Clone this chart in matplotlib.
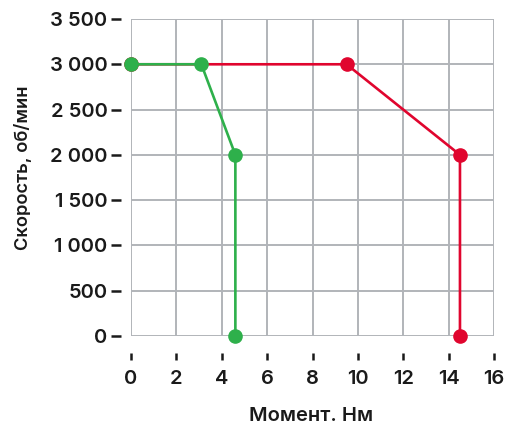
import matplotlib
matplotlib.use("Agg")
import matplotlib.pyplot as plt
from matplotlib.ticker import FuncFormatter

plt.rcParams['font.family'] = ['Inter', 'DejaVu Sans']
plt.rcParams['font.weight'] = 600

red_x = [0, 9.5, 14.5, 14.5]
red_y = [3000, 3000, 2000, 0]
green_x = [0, 3.1, 4.6, 4.6]
green_y = [3000, 3000, 2000, 0]
x_ticks = [0, 2, 4, 6, 8, 10, 12, 14, 16]
y_ticks = [0, 500, 1000, 1500, 2000, 2500, 3000, 3500]

RED = '#e0052e'
GREEN = '#2eb04b'
GRID = '#b1b4b9'
TXT = '#1a1a1a'

W, H = 508, 425
fig = plt.figure(figsize=(W/100, H/100), dpi=100)
ax = fig.add_axes([131/W, 1 - 336/H, (494-131)/W, (336-19)/H])

ax.plot(red_x, red_y, color=RED, lw=1.9, marker='o', ms=9.5, zorder=3, clip_on=False)
ax.plot(green_x, green_y, color=GREEN, lw=1.9, marker='o', ms=9.5, zorder=4, clip_on=False)

ax.set_xlim(0, 16)
ax.set_ylim(0, 3500)
ax.set_xticks(x_ticks)
ax.set_yticks(y_ticks)

def yfmt(v, pos):
    return f"{int(v):,}".replace(",", " ")
ax.yaxis.set_major_formatter(FuncFormatter(yfmt))

ax.grid(True, color=GRID, lw=1.4, zorder=0)
ax.set_axisbelow(True)
for s in ax.spines.values():
    s.set_visible(False)
ax.spines['left'].set_position(('outward', 7))
ax.spines['bottom'].set_position(('outward', 12.5))

ax.tick_params(axis='y', direction='out', length=7, width=1.8, pad=3,
               colors=TXT, labelsize=14.5)
ax.tick_params(axis='x', direction='out', length=5, width=1.8, pad=7,
               colors=TXT, labelsize=14.5)

fig.text(311/W, 1 - 421/H, 'Момент. Нм', fontsize=14.5, fontweight=600,
         color=TXT, ha='center', va='baseline')
fig.text(28/W, 1 - 168/H, 'Скорость, об/мин', fontsize=13.2, fontweight=600,
         color=TXT, ha='center', va='baseline', rotation=90, rotation_mode='anchor')

fig.savefig('out.png', dpi=100)
